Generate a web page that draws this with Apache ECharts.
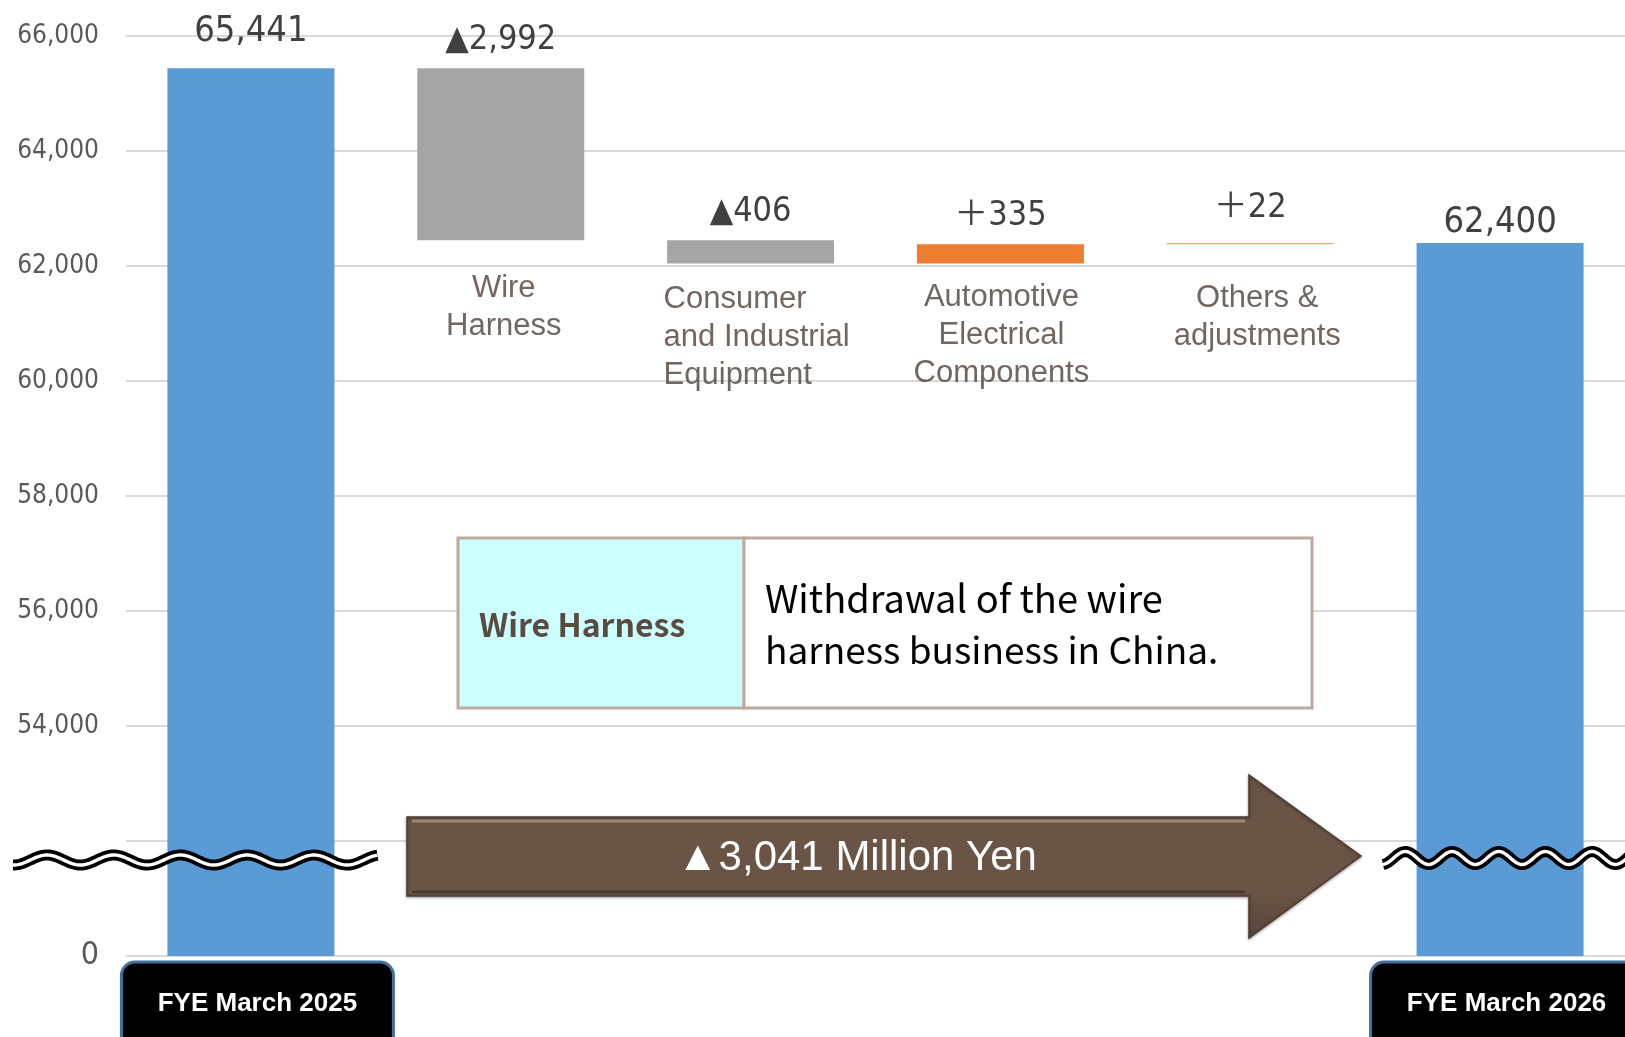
<!DOCTYPE html>
<html>
<head>
<meta charset="utf-8">
<script src="https://cdn.jsdelivr.net/npm/echarts@6/dist/echarts.min.js"></script>
<style>
html,body{margin:0;padding:0;background:#fff;}
#main{width:1625px;height:1037px;}
</style>
</head>
<body>
<div id="main"></div>
<script>
// ---------- data ----------
const categories = ['FYE March 2025', 'Wire Harness', 'Consumer and Industrial Equipment',
  'Automotive Electrical Components', 'Others & adjustments', 'FYE March 2026'];
const categoryLines = [[], ['Wire', 'Harness'], ['Consumer', 'and Industrial', 'Equipment'],
  ['Automotive', 'Electrical', 'Components'], ['Others &', 'adjustments'], []];
const startTotal = 65441;
const changes = [-2992, -406, 335, 22];
const endTotal = 62400;
const axisMin = 50000;      // drawn as "0" (broken axis)
const axisMax = 66000;
const axisStep = 2000;
const hiddenTick = 52000;   // gridline without label
const noteTitle = 'Wire Harness';
const noteLines = ['Withdrawal of the wire', 'harness business in China.'];
const unitText = 'Million Yen';

// ---------- styles ----------
const NARROW = "'Liberation Sans Narrow','DejaVu Sans Condensed','Liberation Sans','Noto Sans CJK JP',sans-serif";
const ARIAL = "'Liberation Sans',Arial,sans-serif";
const COL_TOTAL = '#5B9BD5', COL_DOWN = '#A5A5A5', COL_UP = '#ED7D31', COL_UP_SMALL = '#F4A36C';
const labelSize = [36, 34, 34, 34, 34, 36];
const labelDist = [19, 10.5, 11.5, 11.5, 17.5, 2.5];
const catDist = [0, 3, 14, 12, 13, 0];
const catDx = [0, 3, -87, 1, 7, 0];
const catAlign = ['center', 'center', 'left', 'center', 'center', 'center'];

// ---------- build waterfall ----------
const fmt = v => Math.abs(v).toLocaleString('en-US');
const baseVals = [0], barVals = [startTotal], labels = [fmt(startTotal)], colors = [COL_TOTAL];
let run = startTotal;
changes.forEach(c => {
  const low = Math.min(run, run + c);
  baseVals.push(low);
  barVals.push(Math.abs(c));
  labels.push((c < 0 ? '▲' : '＋') + fmt(c));
  colors.push(c < 0 ? COL_DOWN : (Math.abs(c) < 100 ? COL_UP_SMALL : COL_UP));
  run += c;
});
baseVals.push(0); barVals.push(endTotal); labels.push(fmt(endTotal)); colors.push(COL_TOTAL);
const totalChange = endTotal - startTotal;

const chart = echarts.init(document.getElementById('main'), null, {renderer: 'canvas'});

function wavePts(x0, x1, yc, period, amp, phaseX) {
  const pts = [];
  for (let x = x0; x <= x1; x += 1.5) pts.push([x, yc - amp * Math.cos(2 * Math.PI * (x - phaseX) / period)]);
  return pts;
}
function waveEls(x0, x1, yc, period, amp, phaseX) {
  const pts = wavePts(x0, x1, yc, period, amp, phaseX);
  return [
    {type: 'polyline', z: 100, shape: {points: pts}, style: {stroke: '#000', lineWidth: 11, fill: null, lineCap: 'butt'}},
    {type: 'polyline', z: 101, shape: {points: pts}, style: {stroke: '#fff', lineWidth: 3.4, fill: null, lineCap: 'butt'}}
  ];
}

const option = {
  animation: false,
  backgroundColor: '#fff',
  grid: {left: 126, right: 0, top: 36, bottom: 81, containLabel: false, outerBoundsMode: 'none'},
  xAxis: {
    type: 'category',
    data: categories,
    axisLine: {show: false},
    axisTick: {show: false},
    axisLabel: {
      interval: 0,
      margin: 39,
      formatter: (v, i) => (i === 0 || i === categories.length - 1) ? '{sp|}{box|' + v + '}' : '',
      rich: {
        sp: {width: 13, lineHeight: 30},
        box: {
          backgroundColor: '#000', borderColor: '#41719C', borderWidth: 3, borderRadius: 12,
          color: '#fff', fontWeight: 'bold', fontSize: 26, fontFamily: ARIAL,
          width: 199, align: 'center', lineHeight: 30, padding: [27, 35, 40, 35]
        }
      }
    }
  },
  yAxis: {
    type: 'value',
    min: axisMin, max: axisMax, interval: axisStep,
    axisLine: {show: false},
    axisTick: {show: false},
    splitLine: {lineStyle: {color: '#D9D9D9', width: 2}},
    axisLabel: {
      margin: 27,
      color: '#595959', fontSize: 26, fontFamily: NARROW,
      formatter: v => v === axisMin ? '{z|0}' : (v === hiddenTick ? '' : v.toLocaleString('en-US')),
      rich: {z: {fontSize: 32, color: '#595959', fontFamily: NARROW}}
    }
  },
  series: [
    {
      type: 'bar', stack: 'wf', barWidth: 167, silent: true,
      itemStyle: {color: 'rgba(0,0,0,0)'},
      data: baseVals
    },
    {
      type: 'bar', stack: 'wf', barWidth: 167, silent: true, clip: true,
      data: barVals.map((v, i) => ({
        value: v,
        itemStyle: {color: colors[i]},
        label: {
          show: true, position: 'top', distance: labelDist[i],
          formatter: labels[i], color: '#404040',
          fontSize: labelSize[i], fontFamily: NARROW
        }
      }))
    },
    {
      type: 'scatter', silent: true, symbolSize: 1,
      itemStyle: {color: 'rgba(0,0,0,0)'},
      data: categoryLines.map((lines, i) => lines.length ? {
        value: [i, 62000],
        label: {
          show: true, position: 'bottom', distance: catDist[i], offset: [catDx[i], 0],
          align: catAlign[i],
          formatter: lines.join('\n'),
          color: '#4F4038', fontSize: 31, lineHeight: 38, fontFamily: ARIAL
        }
      } : {value: [i, null]})
    }
  ],
  graphic: [
    // break marks
    ...waveEls(13, 378, 860, 66.7, 5, 47),
    ...waveEls(1383, 1640, 858, 46.7, 6.5, 1452),
    // arrow
    {
      type: 'polygon', z: 90,
      shape: {points: [[407, 817], [1249, 817], [1249, 775], [1361, 856], [1249, 938], [1249, 896], [407, 896]]},
      style: {
        fill: {type: 'linear', x: 0, y: 0, x2: 0, y2: 1, colorStops: [
          {offset: 0, color: '#6A5446'}, {offset: 0.3, color: '#6A5446'},
          {offset: 0.7, color: '#6A5446'}, {offset: 1, color: '#5A4639'}]},
        stroke: '#4E3D32', lineWidth: 1.5,
        shadowBlur: 3, shadowColor: 'rgba(0,0,0,0.35)', shadowOffsetY: 1
      }
    },
    {type: 'line', z: 91, shape: {x1: 412, y1: 821, x2: 1245, y2: 821}, style: {stroke: '#9C8677', lineWidth: 3}},
    {type: 'line', z: 91, shape: {x1: 412, y1: 892, x2: 1245, y2: 892}, style: {stroke: '#4A392E', lineWidth: 3}},
    {
      type: 'text', z: 95,
      style: {
        text: '▲' + fmt(totalChange) + ' ' + unitText, x: 857, y: 858,
        textAlign: 'center', textVerticalAlign: 'middle',
        fill: '#fff', font: "42px 'Liberation Sans',Arial,sans-serif"
      }
    },
    // note table
    {type: 'rect', z: 90, shape: {x: 458, y: 538, width: 286, height: 170}, style: {fill: '#CCFFFF', stroke: '#BCAA9E', lineWidth: 3}},
    {type: 'rect', z: 90, shape: {x: 744, y: 538, width: 568, height: 170}, style: {fill: '#FFFFFF', stroke: '#BCAA9E', lineWidth: 3}},
    {
      type: 'text', z: 95,
      style: {text: noteTitle, x: 479, y: 625, textAlign: 'left', textVerticalAlign: 'middle',
        fill: '#5B4A42', font: "bold 32px 'Noto Sans CJK JP','Noto Sans',sans-serif"}
    },
    {
      type: 'text', z: 95,
      style: {text: noteLines[0], x: 765, y: 599, textAlign: 'left', textVerticalAlign: 'middle',
        fill: '#000', font: "38px 'Noto Sans CJK JP','Noto Sans',sans-serif"}
    },
    {
      type: 'text', z: 95,
      style: {text: noteLines[1], x: 765, y: 650, textAlign: 'left', textVerticalAlign: 'middle',
        fill: '#000', font: "37px 'Noto Sans CJK JP','Noto Sans',sans-serif"}
    }
  ]
};
chart.setOption(option);
</script>
</body>
</html>
